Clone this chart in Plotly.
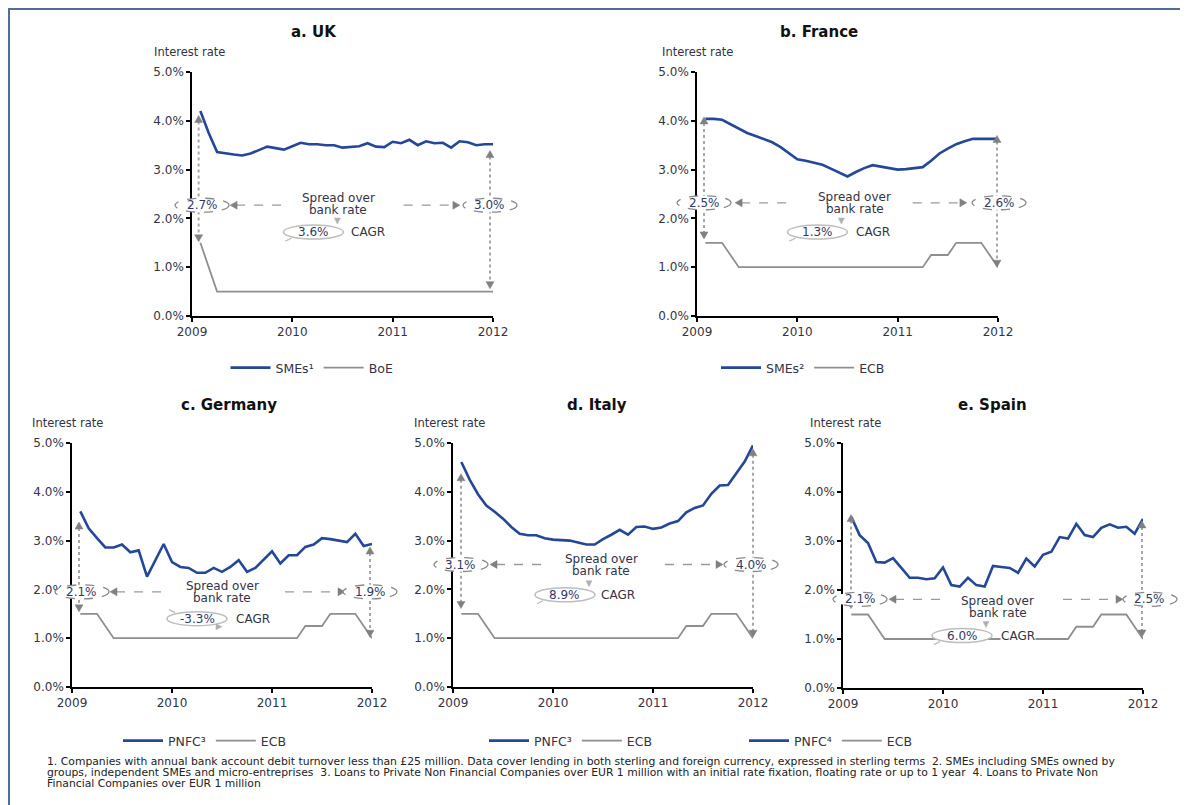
import pandas as pd
import plotly.graph_objects as go

# ---------------- data ----------------
months = pd.period_range("2009-01", "2011-12", freq="M")
x_years = [p.year + p.month / 12 for p in months]

uk_smes = [4.20, 3.75, 3.36, 3.33, 3.31, 3.29, 3.33, 3.40, 3.47, 3.44, 3.41, 3.48,
           3.55, 3.52, 3.52, 3.50, 3.50, 3.45, 3.46, 3.48, 3.54, 3.47, 3.46, 3.57,
           3.54, 3.61, 3.50, 3.58, 3.54, 3.55, 3.45, 3.58, 3.56, 3.50, 3.52, 3.52]
uk_boe = [1.5, 1.0] + [0.5] * 34

fr_smes = [4.04, 4.04, 4.02, 3.93, 3.84, 3.75, 3.69, 3.63, 3.56, 3.46, 3.34, 3.21,
           3.18, 3.14, 3.10, 3.02, 2.94, 2.86, 2.95, 3.03, 3.09, 3.06, 3.03, 3.00,
           3.01, 3.03, 3.05, 3.18, 3.33, 3.43, 3.52, 3.58, 3.63, 3.63, 3.63, 3.63]
ecb = [1.5, 1.5, 1.5, 1.25] + [1.0] * 23 + [1.25, 1.25, 1.25, 1.5, 1.5, 1.5, 1.5, 1.25, 1.0]

de_pnfc = [3.60, 3.25, 3.05, 2.86, 2.86, 2.92, 2.76, 2.80, 2.26, 2.60, 2.93, 2.56,
           2.46, 2.44, 2.34, 2.34, 2.44, 2.36, 2.46, 2.60, 2.36, 2.44, 2.62, 2.78,
           2.53, 2.70, 2.70, 2.87, 2.92, 3.05, 3.03, 3.00, 2.97, 3.14, 2.89, 2.93]
it_pnfc = [4.61, 4.25, 3.95, 3.72, 3.59, 3.45, 3.28, 3.14, 3.11, 3.11, 3.05, 3.02,
           3.01, 3.00, 2.96, 2.92, 2.92, 3.03, 3.12, 3.22, 3.12, 3.28, 3.29, 3.24,
           3.27, 3.35, 3.40, 3.58, 3.67, 3.72, 3.96, 4.13, 4.14, 4.38, 4.62, 4.95]
es_pnfc = [3.49, 3.12, 2.96, 2.57, 2.56, 2.65, 2.45, 2.25, 2.25, 2.22, 2.24, 2.46,
           2.10, 2.07, 2.25, 2.10, 2.07, 2.49, 2.47, 2.45, 2.35, 2.64, 2.48, 2.72,
           2.78, 3.08, 3.05, 3.35, 3.12, 3.08, 3.27, 3.34, 3.27, 3.29, 3.15, 3.45]

titles = ["a. UK", "b. France", "c. Germany", "d. Italy", "e. Spain"]
main_names = ["SMEs¹", "SMEs²", "PNFC³", "PNFC³", "PNFC⁴"]
base_names = ["BoE", "ECB", "ECB", "ECB", "ECB"]
main_series = [uk_smes, fr_smes, de_pnfc, it_pnfc, es_pnfc]
base_series = [uk_boe, ecb, ecb, ecb, ecb]
spread_start = ["2.7%", "2.5%", "2.1%", "3.1%", "2.1%"]
spread_end = ["3.0%", "2.6%", "1.9%", "4.0%", "2.5%"]
cagr = ["3.6%", "1.3%", "-3.3%", "8.9%", "6.0%"]
year_ticks = [2009, 2010, 2011, 2012]
pct_ticks = [0, 1, 2, 3, 4, 5]
pct_labels = ["0.0%", "1.0%", "2.0%", "3.0%", "4.0%", "5.0%"]

footnotes = [
    "1. Companies with annual bank account debit turnover less than £25 million. Data cover lending in both sterling and foreign currency, expressed in sterling terms  2. SMEs including SMEs owned by",
    "groups, independent SMEs and micro-entreprises  3. Loans to Private Non Financial Companies over EUR 1 million with an initial rate fixation, floating rate or up to 1 year  4. Loans to Private Non",
    "Financial Companies over EUR 1 million",
]

# ---------------- layout geometry ----------------
W, H = 1188, 805
OFF = 8  # page body margin of the html page
FONT = "DejaVu Sans"
BLUE = "#24479a"
GREY = "#8f8f8f"
TXT = "#333344"

# axis boxes in screen pixels: x0, x1, ytop, ybottom
boxes = [(192, 493, 72, 316), (697, 998, 72, 316),
         (72, 372, 443, 687), (453, 753, 443, 687), (843, 1143, 443, 688)]
title_pos = [(314, 32), (819, 32), (229, 405), (597, 405), (992, 405)]
ylab_pos = [(152, 52), (660, 52), (30, 423), (412, 423), (808, 423)]
legend_pos = [(312, 368), (803, 368), (205, 741), (571, 741), (831, 741)]

# annotation geometry (years / percent units in each panel)
geo = [
    dict(ell_y=2.27, lell=2009.10, rell=2011.97, txt_t=2010.46, txt_dy=-1, ld=(2009.38, 2009.91),
         rd=(2011.11, 2011.67), cg=(2010.21, 1.72), cg_t=2010.57, lv=(2009.066, 4.11, 1.52), rv=(2011.97, 3.39, 0.56)),
    dict(ell_y=2.32, lell=2009.07, rell=2012.01, txt_t=2010.57, txt_dy=0, ld=(2009.38, 2009.95),
         rd=(2011.15, 2011.69), cg=(2010.20, 1.72), cg_t=2010.57, lv=(2009.07, 4.08, 1.58), rv=(2011.99, 3.70, 1.0)),
    dict(ell_y=1.95, lell=2009.10, rell=2011.98, txt_t=2010.50, txt_dy=0, ld=(2009.38, 2009.92),
         rd=(2011.13, 2011.73), cg=(2010.25, 1.40), cg_t=2010.63, lv=(2009.07, 3.38, 1.54), rv=(2011.98, 2.87, 1.02)),
    dict(ell_y=2.51, lell=2009.08, rell=2011.98, txt_t=2010.48, txt_dy=0, ld=(2009.37, 2009.90),
         rd=(2011.12, 2011.70), cg=(2010.12, 1.89), cg_t=2010.47, lv=(2009.08, 4.37, 1.61), rv=(2012.0, 4.88, 1.02)),
    dict(ell_y=1.81, lell=2009.17, rell=2012.07, txt_t=2010.55, txt_dy=8, ld=(2009.46, 2010.0),
         rd=(2011.20, 2011.80), cg=(2010.19, 1.07), cg_t=2010.57, lv=(2009.08, 3.54, 1.62), rv=(2011.99, 3.41, 1.04)),
]


def P(px, py):
    return (px - OFF) / W, 1 - (py - OFF) / H


def to_px(k, t, v):
    x0, x1, yt, yb = boxes[k]
    return x0 + (t - 2009) / 3 * (x1 - x0), yb - v / 5 * (yb - yt)


shapes = []
annotations = []


def line(p1, p2, color, width, dash="solid"):
    a, b = P(*p1)
    c, d = P(*p2)
    shapes.append(dict(type="line", xref="paper", yref="paper", x0=a, y0=b, x1=c, y1=d,
                       line=dict(color=color, width=width, dash=dash), layer="above"))


def ellipse(cx, cy, rx, ry, color, dash="solid", width=1.2):
    a, b = P(cx - rx, cy + ry)
    c, d = P(cx + rx, cy - ry)
    shapes.append(dict(type="circle", xref="paper", yref="paper", x0=a, y0=b, x1=c, y1=d,
                       line=dict(color=color, width=width, dash=dash), fillcolor="white", layer="above"))


def tri(px, py, d, L=7, B=4, color="#808080"):
    if d == "up":
        pts = [(px, py), (px - B, py + L), (px + B, py + L)]
    elif d == "down":
        pts = [(px, py), (px - B, py - L), (px + B, py - L)]
    elif d == "left":
        pts = [(px, py), (px + L, py - B), (px + L, py + B)]
    else:
        pts = [(px, py), (px - L, py - B), (px - L, py + B)]
    path = "M " + " L ".join("{:.5f},{:.5f}".format(*P(x, y)) for x, y in pts) + " Z"
    shapes.append(dict(type="path", xref="paper", yref="paper", path=path,
                       fillcolor=color, line=dict(color=color, width=0.5), layer="above"))


def text(px, py, s, size=12, color=TXT, bold=False, xanchor="center", bg=None):
    x, y = P(px, py)
    a = dict(xref="paper", yref="paper", x=x, y=y, text=f"<b>{s}</b>" if bold else s,
             showarrow=False, xanchor=xanchor, yanchor="middle",
             font=dict(family=FONT, size=size, color=color))
    if bg:
        a["bgcolor"] = bg
        a["borderpad"] = 0
    annotations.append(a)


fig = go.Figure()
layout = dict(width=W, height=H, autosize=False,
              margin=dict(l=0, r=0, t=0, b=0, pad=0, autoexpand=False),
              paper_bgcolor="white", plot_bgcolor="white", showlegend=True)

for k in range(5):
    sfx = "" if k == 0 else str(k + 1)
    x0, x1, yt, yb = boxes[k]
    px0, py0 = P(x0, yb)
    px1, py1 = P(x1, yt)
    leg = "legend" if k == 0 else f"legend{k + 1}"
    fig.add_trace(go.Scatter(x=x_years, y=main_series[k], mode="lines", name=main_names[k],
                             line=dict(color=BLUE, width=2.6), xaxis="x" + sfx, yaxis="y" + sfx,
                             legend=leg, cliponaxis=False))
    fig.add_trace(go.Scatter(x=x_years, y=base_series[k], mode="lines", name=base_names[k],
                             line=dict(color=GREY, width=1.8), xaxis="x" + sfx, yaxis="y" + sfx,
                             legend=leg, cliponaxis=False))
    axis_common = dict(showline=True, linecolor="black", linewidth=1.5, ticks="outside",
                       ticklen=4, tickwidth=1.5, tickcolor="black", showgrid=False, zeroline=False,
                       tickfont=dict(family=FONT, size=12, color=TXT), fixedrange=True,
                       automargin=False)
    layout["xaxis" + sfx] = dict(domain=[px0, px1], range=[2009, 2012], tickmode="array",
                                 tickvals=year_ticks, ticktext=[str(v) for v in year_ticks],
                                 anchor="y" + sfx, **axis_common)
    layout["yaxis" + sfx] = dict(domain=[py0, py1], range=[0, 5], tickmode="array",
                                 tickvals=pct_ticks, ticktext=pct_labels, anchor="x" + sfx,
                                 **axis_common)
    lx, ly = P(*legend_pos[k])
    layout[leg] = dict(orientation="h", x=lx, y=ly, xanchor="center", yanchor="middle",
                       font=dict(family=FONT, size=12.5, color=TXT), bgcolor="rgba(0,0,0,0)",
                       itemwidth=40, tracegroupgap=0)

    # titles
    text(*title_pos[k], titles[k], size=15, color="#111111", bold=True)
    text(*ylab_pos[k], "Interest rate", size=11.5, color=TXT, xanchor="left")

    g = geo[k]
    # vertical dotted arrows
    for (t, top, bot) in (g["lv"], g["rv"]):
        ptop = to_px(k, t, top)
        pbot = to_px(k, t, bot)
        line((ptop[0], ptop[1] + 6), (pbot[0], pbot[1] - 6), "#a8a8a8", 2, "dot")
        tri(ptop[0], ptop[1], "up")
        tri(pbot[0], pbot[1], "down")
    # horizontal dashed arrows
    ly_ = to_px(k, 2010, g["ell_y"])[1]
    a = to_px(k, g["ld"][0], 0)[0]
    b = to_px(k, g["ld"][1], 0)[0]
    line((a + 6, ly_), (b, ly_), "#9a9a9a", 1.3, "dash")
    tri(a, ly_, "left")
    a = to_px(k, g["rd"][0], 0)[0]
    b = to_px(k, g["rd"][1], 0)[0]
    line((a, ly_), (b - 6, ly_), "#9a9a9a", 1.3, "dash")
    tri(b, ly_, "right")
    # spread ellipses
    for t, lab in ((g["lell"], spread_start[k]), (g["rell"], spread_end[k])):
        cx = to_px(k, t, 0)[0]
        ellipse(cx, ly_, 27, 7, "#8a8a8a", "dash", 1.3)
        text(cx, ly_, lab, size=12, color="#2e3a66")
    # spread text
    tx = to_px(k, g["txt_t"], 0)[0]
    text(tx, ly_ - 6 + g["txt_dy"], "Spread over", size=12, color=TXT)
    text(tx, ly_ + 6 + g["txt_dy"], "bank rate", size=12, color=TXT)
    # CAGR
    cx, cy = to_px(k, g["cg"][0], g["cg"][1])
    ellipse(cx, cy, 30, 7, "#bdbdbd", "solid", 1.5)
    if cagr[k].startswith("-"):
        tri(cx + 25, cy + 8, "right", L=6, B=3, color="#b0b0b0")
        line((cx - 22, cy - 6), (cx - 28, cy - 9), "#bdbdbd", 1.3)
    else:
        tri(cx + 24, cy - 8, "down", L=6, B=3, color="#b0b0b0")
        line((cx - 22, cy + 6), (cx - 28, cy + 9), "#bdbdbd", 1.3)
    text(cx, cy, cagr[k], size=12, color="#2e3a66")
    text(to_px(k, g["cg_t"], 0)[0], cy, "CAGR", size=12, color=TXT, xanchor="left", bg="white")

# footnotes
for i, s in enumerate(footnotes):
    text(45, 761 + 11 * i, s, size=10.8, color="#222222", xanchor="left")

# outer frame (as close to the page edge as the figure allows)
fx0, fy0 = P(9, 9)
shapes.append(dict(type="rect", xref="paper", yref="paper", x0=fx0, y0=-0.02, x1=1.02, y1=fy0,
                   line=dict(color="#4f6f99", width=2), fillcolor="rgba(0,0,0,0)", layer="below"))

layout["shapes"] = shapes
layout["annotations"] = annotations
fig.update_layout(**layout)
fig.write_html("out.html")
